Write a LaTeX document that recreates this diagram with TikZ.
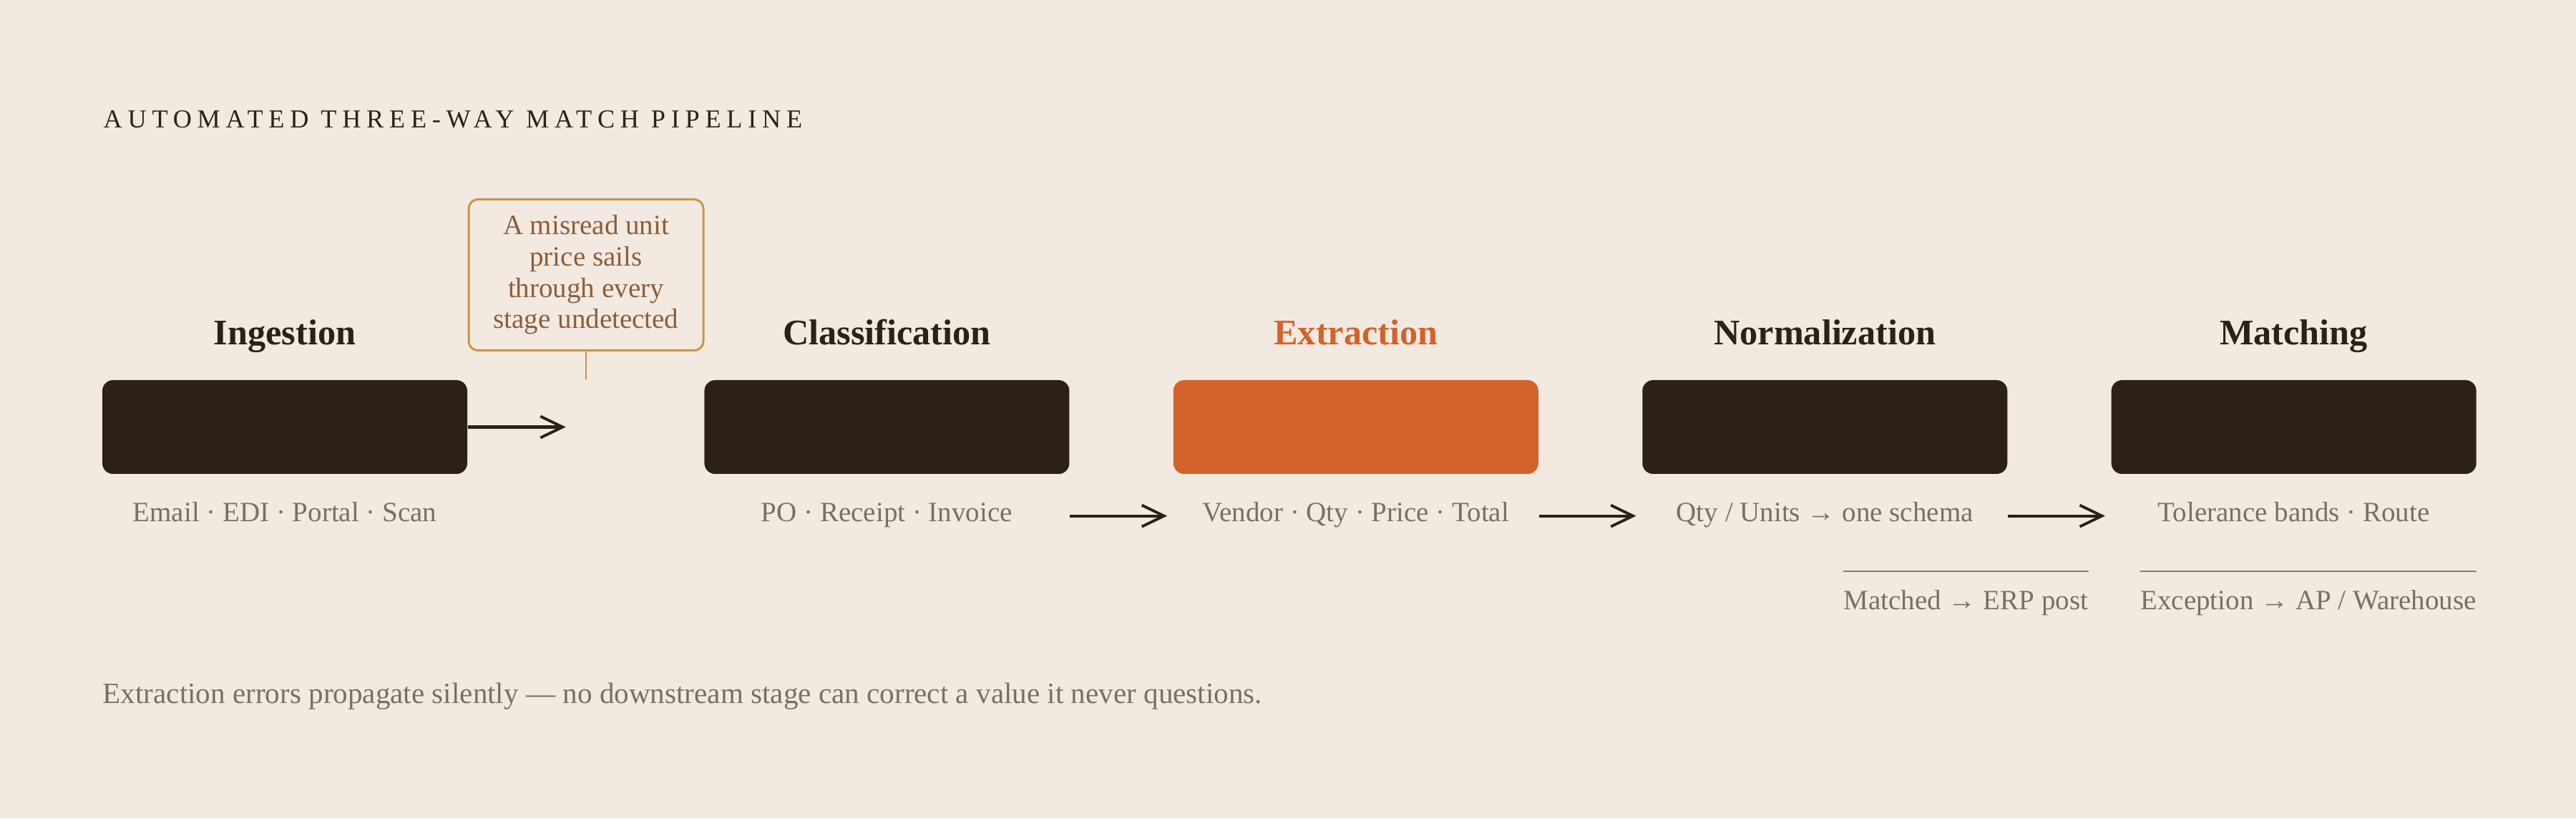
\documentclass[tikz,border=0pt]{standalone}
\usepackage{fontspec}
\setmainfont{Liberation Serif}
\newfontfamily\capsfont[LetterSpace=21.5]{Liberation Serif}
\usetikzlibrary{positioning,arrows.meta,calc}
\definecolor{paper}{HTML}{F2EAE0}
\definecolor{ink}{HTML}{2B2119}
\definecolor{rust}{HTML}{D4622B}
\definecolor{ochre}{HTML}{C9954C}
\definecolor{umber}{HTML}{8C5D3B}
\definecolor{ash}{HTML}{7A6F67}
\definecolor{rulegray}{HTML}{8A8079}
\tikzset{
  stage/.style={rectangle, rounded corners=1.5mm, minimum width=5.1cm, minimum height=1.31cm, fill=ink, inner sep=0pt},
  head/.style={font=\fontsize{14.3}{16}\selectfont\bfseries, text=ink, inner sep=0pt, text depth=0pt},
  sub/.style={font=\fontsize{11.1}{13}\selectfont, text=ash, inner sep=0pt},
  connect/.style={-{Straight Barb[length=3.1mm,width=3.0mm,line width=1.1pt]}, line width=1.15pt, draw=ink},
  note/.style={rectangle, rounded corners=1.3mm, draw=ochre, line width=0.85pt, text=umber, align=center, minimum width=3.28cm, minimum height=2.11cm, font=\fontsize{11.1}{12.4}\selectfont},
  split/.style={draw=rulegray, line width=0.7pt}
}

\begin{document}
\begin{tikzpicture}
    \fill[paper] (0,0) rectangle (36,11.43);
    \useasboundingbox (0,0) rectangle (36,11.43);

    \node[anchor=base west, inner sep=0pt, text=ink, font=\capsfont\fontsize{10.3}{12}\selectfont] (title) at (1.44,9.64) {AUTOMATED THREE-WAY MATCH PIPELINE};

    \node[stage] (ingest) at (3.98,5.465) {};
    \node[stage, right=3.3cm of ingest] (classify) {};
    \node[stage, right=1.44cm of classify, fill=rust] (extract) {};
    \node[stage, right=1.44cm of extract] (normal) {};
    \node[stage, right=1.44cm of normal] (match) {};

    \node[head, above=0.48cm of ingest] {Ingestion};
    \node[head, above=0.48cm of classify] {Classification};
    \node[head, above=0.48cm of extract, text=rust] {Extraction};
    \node[head, above=0.48cm of normal] {Normalization};
    \node[head, above=0.48cm of match] {Matching};

    \node[sub, below=0.66cm of ingest, anchor=base] (ingsub) {Email · EDI · Portal · Scan};
    \node[sub, below=0.66cm of classify, anchor=base] (clssub) {PO · Receipt · Invoice};
    \node[sub, below=0.66cm of extract, anchor=base] (extsub) {Vendor · Qty · Price · Total};
    \node[sub, below=0.66cm of normal, anchor=base] (norsub) {Qty / Units → one schema};
    \node[sub, below=0.66cm of match, anchor=base] (matsub) {Tolerance bands · Route};

    \node[note] (warn) at (8.19,7.59) {A misread unit\\price sails\\through every\\stage undetected};
    \draw[ochre, line width=0.6pt] (warn.south) -- (warn.south |- ingest.north);

    \coordinate[right=1.37cm of ingest] (drift);
    \path (ingest) edge [connect] (drift);
    \path (classify.east |- clssub.mid) edge [connect, shorten >=0.8mm] (extract.west |- clssub.mid)
          (extract.east |- extsub.mid) edge [connect, shorten >=0.8mm] (normal.west |- extsub.mid)
          (normal.east |- norsub.mid) edge [connect, shorten >=0.8mm] (match.west |- norsub.mid);

    \coordinate (lowrow) at (0,2.91);
    \node[sub, anchor=base east] (except) at (match.east |- lowrow) {Exception → AP / Warehouse};
    \node[sub, anchor=base east] (matched) at ([xshift=-0.72cm]except.base west) {Matched → ERP post};
    \draw[split] ([yshift=0.54cm]matched.base west) -- ([yshift=0.54cm]matched.base east);
    \draw[split] ([yshift=0.54cm]except.base west) -- ([yshift=0.54cm]except.base east);

    \node[sub, anchor=base west, font=\fontsize{11.7}{13}\selectfont] (moral) at (1.43,1.60) {Extraction errors propagate silently — no downstream stage can correct a value it never questions.};
\end{tikzpicture}
\end{document}
